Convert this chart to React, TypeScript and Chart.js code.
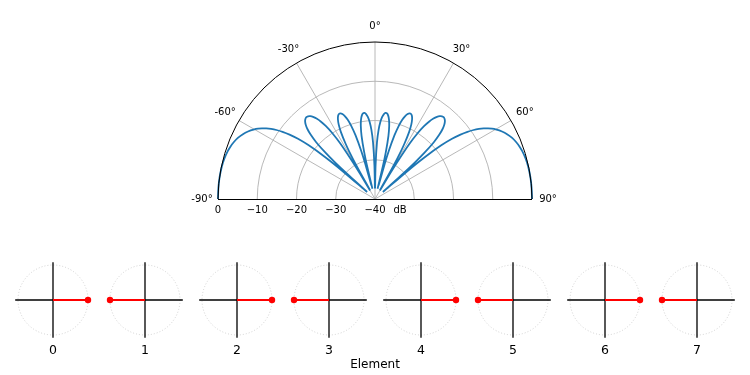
import React, { useEffect, useRef } from "react";
import { Chart, registerables } from "chart.js";

Chart.register(...registerables);

// ---------- Data: array-factor pattern (angle in degrees, gain in dB), null = break between lobes ----------
const thetaDeg: (number | null)[] = [
  -90, -86, -82, -78, -75, -72, -70, -68, -66, -64, -62, -60, -59, -58, -57, -56, -55, -54, -53, -52, -51, -50, -49.5, -49, -48.93,
  null,
  -48.3, -48, -47.5, -47, -46, -45, -44, -43, -42, -41, -40, -39, -38, -37, -36, -35, -34, -33, -32, -31, -30.7, -30.4,
  null,
  -29.6, -29, -28.5, -28, -27, -26, -25, -24, -23, -22, -21, -20, -19, -18, -17, -16, -15.5, -15,
  null,
  -14, -13.5, -13, -12, -11, -10, -9, -8, -7, -6, -5, -4, -3, -2, -1, -0.5,
  null,
  0.5, 1, 2, 3, 4, 5, 6, 7, 8, 9, 10, 11, 12, 13, 13.5, 14,
  null,
  15, 15.5, 16, 17, 18, 19, 20, 21, 22, 23, 24, 25, 26, 27, 28, 28.5, 29, 29.6,
  null,
  30.4, 30.7, 31, 32, 33, 34, 35, 36, 37, 38, 39, 40, 41, 42, 43, 44, 45, 46, 47, 47.5, 48, 48.3,
  null,
  48.93, 49, 49.5, 50, 51, 52, 53, 54, 55, 56, 57, 58, 59, 60, 62, 64, 66, 68, 70, 72, 75, 78, 82, 86, 90,
];

const gainDb: (number | null)[] = [
  0, 0, -0.02, -0.11, -0.26, -0.55, -0.84, -1.23, -1.75, -2.45, -3.35, -4.52, -5.23, -6.04, -6.98, -8.07, -9.35, -10.88, -12.74, -15.1, -18.28, -23.14, -27.07, -34.12, -36.0,
  null,
  -37.31, -31.25, -26.09, -22.99, -19.17, -16.8, -15.21, -14.12, -13.39, -12.97, -12.8, -12.88, -13.2, -13.78, -14.66, -15.88, -17.55, -19.88, -23.33, -29.37, -32.49, -37.38,
  null,
  -37.5, -29.69, -26.31, -23.99, -20.88, -18.92, -17.65, -16.86, -16.48, -16.46, -16.8, -17.51, -18.67, -20.4, -23.0, -27.21, -30.63, -36.45,
  null,
  -37.3, -31.16, -27.69, -23.53, -21.05, -19.47, -18.49, -17.99, -17.91, -18.24, -19.0, -20.29, -22.31, -25.49, -31.3, -37.3,
  null,
  -37.3, -31.3, -25.49, -22.31, -20.29, -19.0, -18.24, -17.91, -17.99, -18.49, -19.47, -21.05, -23.53, -27.69, -31.16, -37.3,
  null,
  -36.45, -30.63, -27.21, -23.0, -20.4, -18.67, -17.51, -16.8, -16.46, -16.48, -16.86, -17.65, -18.92, -20.88, -23.99, -26.31, -29.69, -37.5,
  null,
  -37.38, -32.49, -29.37, -23.33, -19.88, -17.55, -15.88, -14.66, -13.78, -13.2, -12.88, -12.8, -12.97, -13.39, -14.12, -15.21, -16.8, -19.17, -22.99, -26.09, -31.25, -37.31,
  null,
  -36.0, -34.12, -27.07, -23.14, -18.28, -15.1, -12.74, -10.88, -9.35, -8.07, -6.98, -6.04, -5.23, -4.52, -3.35, -2.45, -1.75, -1.23, -0.84, -0.55, -0.26, -0.11, -0.02, 0, 0,
];

const rMinDb = -40;
const rMaxDb = 0;
const thetaTickDeg = [-90, -60, -30, 0, 30, 60, 90];
const thetaGridDeg = [-60, -30, 0, 30, 60];
const rTickDb = [0, -10, -20, -30, -40];
const rGridDb = [-10, -20, -30];
const rUnitLabel = "dB";

// ---------- Data: element weights ----------
const elementIndex = [0, 1, 2, 3, 4, 5, 6, 7];
const elementPhaseDeg = [0, 180, 0, 180, 0, 180, 0, 180];
const elementMagnitude = [1, 1, 1, 1, 1, 1, 1, 1];
const elementAxisLabel = "Element";

// ---------- Layout ----------
const FONT = '"DejaVu Sans", "Liberation Sans", sans-serif';
const TOP_W = 750;
const TOP_H = 240;
const TOP_CX = 375;
const TOP_CY = 199;
const TOP_R = 157;

const SMALL_UNIT = 35;
const SMALL_W = 90;
const SMALL_H = 104;
const SMALL_CY_OFF = 42;
const SMALL_TOP = 258;
const SMALL_X0 = 53.3;
const SMALL_DX = 92;

const toRn = (db: number) => (Math.max(db, rMinDb) - rMinDb) / (rMaxDb - rMinDb);
const fmtMinus = (v: number) => (v < 0 ? "\u2212" + String(Math.abs(v)) : String(v));

function PatternChart() {
  const ref = useRef<HTMLCanvasElement>(null);
  useEffect(() => {
    if (!ref.current) return;
    const pts = thetaDeg.map((t, i) => {
      const g = gainDb[i];
      if (t === null || g === null) return { x: null as any, y: null as any };
      const rn = toRn(g);
      const a = (t * Math.PI) / 180;
      return { x: rn * Math.sin(a), y: rn * Math.cos(a) };
    });

    const polarPlugin = {
      id: "polarFrame",
      beforeDatasetsDraw(chart: any) {
        const { ctx, scales } = chart;
        const sx = scales.x, sy = scales.y;
        const cx = sx.getPixelForValue(0);
        const cy = sy.getPixelForValue(0);
        const R = sx.getPixelForValue(1) - cx;
        ctx.save();
        ctx.strokeStyle = "#b0b0b0";
        ctx.lineWidth = 0.9;
        rGridDb.forEach((db) => {
          ctx.beginPath();
          ctx.arc(cx, cy, toRn(db) * R, Math.PI, 2 * Math.PI);
          ctx.stroke();
        });
        thetaGridDeg.forEach((t) => {
          const a = (t * Math.PI) / 180;
          ctx.beginPath();
          ctx.moveTo(cx, cy);
          ctx.lineTo(sx.getPixelForValue(Math.sin(a)), sy.getPixelForValue(Math.cos(a)));
          ctx.stroke();
        });
        ctx.restore();
      },
      afterDatasetsDraw(chart: any) {
        const { ctx, scales } = chart;
        const sx = scales.x, sy = scales.y;
        const cx = sx.getPixelForValue(0);
        const cy = sy.getPixelForValue(0);
        const R = sx.getPixelForValue(1) - cx;
        ctx.save();
        ctx.strokeStyle = "#000";
        ctx.lineWidth = 1;
        ctx.beginPath();
        ctx.arc(cx, cy, R, Math.PI, 2 * Math.PI);
        ctx.stroke();
        ctx.beginPath();
        ctx.moveTo(cx - R, cy + 0.5);
        ctx.lineTo(cx + R, cy + 0.5);
        ctx.stroke();

        ctx.fillStyle = "#000";
        ctx.font = `10px ${FONT}`;
        ctx.textAlign = "center";
        ctx.textBaseline = "middle";
        const lr = 173 / 157;
        thetaTickDeg.forEach((t) => {
          const a = (t * Math.PI) / 180;
          ctx.fillText(`${t}\u00b0`, sx.getPixelForValue(lr * Math.sin(a)), sy.getPixelForValue(lr * Math.cos(a)));
        });
        rTickDb.forEach((db) => {
          const rn = toRn(db);
          ctx.fillText(fmtMinus(db), sx.getPixelForValue(-rn), cy + 11.8);
        });
        ctx.fillText(rUnitLabel, cx + 25, cy + 11.8);
        ctx.restore();
      },
    };

    const chart = new Chart(ref.current, {
      type: "scatter",
      data: {
        datasets: [
          {
            data: pts,
            showLine: true,
            spanGaps: false,
            borderColor: "#1f77b4",
            borderWidth: 1.8,
            pointRadius: 0,
            tension: 0.3,
            fill: false,
          } as any,
        ],
      },
      options: {
        animation: false,
        responsive: false,
        devicePixelRatio: 1,
        events: [],
        layout: { padding: 0, autoPadding: false } as any,
        plugins: { legend: { display: false }, tooltip: { enabled: false } },
        scales: {
          x: { type: "linear", display: false, min: -TOP_CX / TOP_R, max: (TOP_W - TOP_CX) / TOP_R },
          y: { type: "linear", display: false, min: -(TOP_H - TOP_CY) / TOP_R, max: TOP_CY / TOP_R },
        },
      },
      plugins: [polarPlugin],
    });
    return () => chart.destroy();
  }, []);
  return (
    <canvas
      ref={ref}
      width={TOP_W}
      height={TOP_H}
      style={{ position: "absolute", left: 0, top: 0, width: TOP_W, height: TOP_H }}
    />
  );
}

function ElementChart({ i }: { i: number }) {
  const ref = useRef<HTMLCanvasElement>(null);
  useEffect(() => {
    if (!ref.current) return;
    const ph = (elementPhaseDeg[i] * Math.PI) / 180;
    const m = elementMagnitude[i];
    const framePlugin = {
      id: "elemFrame",
      beforeDatasetsDraw(chart: any) {
        const { ctx, scales } = chart;
        const sx = scales.x, sy = scales.y;
        const cx = sx.getPixelForValue(0);
        const cy = sy.getPixelForValue(0);
        const R = sx.getPixelForValue(1) - cx;
        ctx.save();
        ctx.strokeStyle = "#cfcfcf";
        ctx.lineWidth = 1;
        ctx.setLineDash([1, 2]);
        ctx.beginPath();
        ctx.arc(cx, cy, R, 0, 2 * Math.PI);
        ctx.stroke();
        ctx.setLineDash([]);
        ctx.strokeStyle = "#000";
        ctx.lineWidth = 1.3;
        const e = 1.08;
        ctx.beginPath();
        ctx.moveTo(sx.getPixelForValue(-e), cy);
        ctx.lineTo(sx.getPixelForValue(e), cy);
        ctx.moveTo(cx, sy.getPixelForValue(e));
        ctx.lineTo(cx, sy.getPixelForValue(-e));
        ctx.stroke();
        ctx.restore();
      },
      afterDraw(chart: any) {
        const { ctx, scales } = chart;
        const cx = scales.x.getPixelForValue(0);
        const cy = scales.y.getPixelForValue(0);
        ctx.save();
        ctx.fillStyle = "#000";
        ctx.font = `12.5px ${FONT}`;
        ctx.textAlign = "center";
        ctx.textBaseline = "middle";
        ctx.fillText(String(elementIndex[i]), cx, cy + 51);
        ctx.restore();
      },
    };
    const chart = new Chart(ref.current, {
      type: "scatter",
      data: {
        datasets: [
          {
            data: [
              { x: 0, y: 0 },
              { x: m * Math.cos(ph), y: m * Math.sin(ph) },
            ],
            showLine: true,
            borderColor: "#ff0000",
            borderWidth: 2.2,
            pointRadius: [0, 3.2],
            pointBackgroundColor: "#ff0000",
            pointBorderColor: "#ff0000",
            pointBorderWidth: 0,
            clip: false,
          } as any,
        ],
      },
      options: {
        animation: false,
        responsive: false,
        devicePixelRatio: 1,
        events: [],
        layout: { padding: 0, autoPadding: false } as any,
        plugins: { legend: { display: false }, tooltip: { enabled: false } },
        scales: {
          x: { type: "linear", display: false, min: -SMALL_W / 2 / SMALL_UNIT, max: SMALL_W / 2 / SMALL_UNIT },
          y: {
            type: "linear",
            display: false,
            min: -(SMALL_H - SMALL_CY_OFF) / SMALL_UNIT,
            max: SMALL_CY_OFF / SMALL_UNIT,
          },
        },
      },
      plugins: [framePlugin],
    });
    return () => chart.destroy();
  }, [i]);
  const cxPage = SMALL_X0 + i * SMALL_DX;
  return (
    <canvas
      ref={ref}
      width={SMALL_W}
      height={SMALL_H}
      style={{
        position: "absolute",
        left: Math.round(cxPage - SMALL_W / 2),
        top: SMALL_TOP,
        width: SMALL_W,
        height: SMALL_H,
      }}
    />
  );
}

export default function App() {
  return (
    <div
      style={{
        position: "fixed",
        left: 0,
        top: 0,
        width: 750,
        height: 375,
        background: "#fff",
        overflow: "hidden",
      }}
    >
      <PatternChart />
      {elementIndex.map((i) => (
        <ElementChart key={i} i={i} />
      ))}
      <div
        style={{
          position: "absolute",
          left: 0,
          top: 356,
          width: 750,
          textAlign: "center",
          font: `12px ${FONT}`,
          lineHeight: "16px",
          color: "#000",
        }}
      >
        {elementAxisLabel}
      </div>
    </div>
  );
}
